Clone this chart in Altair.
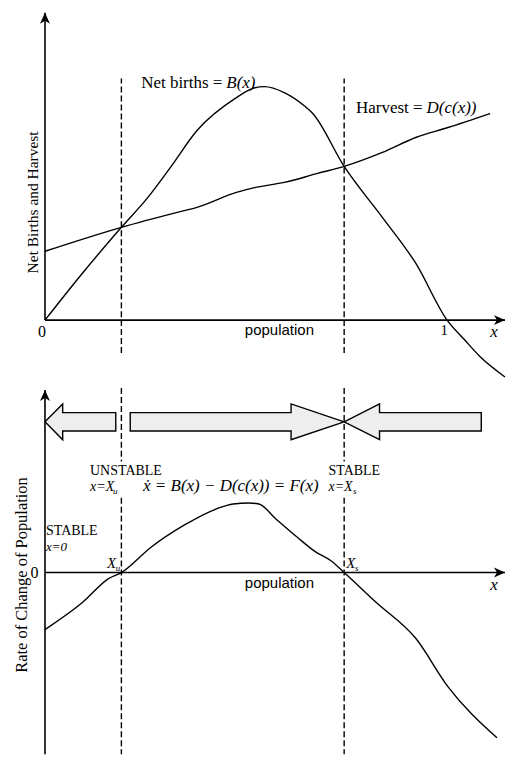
import altair as alt
import pandas as pd

# ---------------- data (population x, values in arbitrary units) ----------------
# Top panel: net births B(x)
b_x = [0, 0.085, 0.19, 0.256, 0.312, 0.378, 0.476, 0.515, 0.546, 0.595, 0.644, 0.666,
       0.744, 0.839, 0.922, 1.0, 1.044, 1.083, 1.144]
b_y = [0, 0.172, 0.372, 0.492, 0.612, 0.760, 0.892, 0.928, 0.936, 0.912, 0.860, 0.828,
       0.616, 0.412, 0.228, 0, -0.08, -0.148, -0.228]
# Top panel: harvest D(c(x))
h_x = [0, 0.19, 0.329, 0.378, 0.476, 0.524, 0.595, 0.678, 0.744, 0.839, 0.922, 1.002, 1.107]
h_y = [0.276, 0.372, 0.432, 0.452, 0.512, 0.532, 0.552, 0.588, 0.616, 0.672, 0.732, 0.772, 0.828]
# Bottom panel: F(x) = B(x) - D(c(x))
f_x = [0, 0.093, 0.159, 0.19, 0.263, 0.346, 0.427, 0.468, 0.507, 0.532, 0.573, 0.629,
       0.671, 0.712, 0.744, 0.824, 0.922, 1.002, 1.124]
f_y = [-0.236, -0.124, -0.024, 0, 0.104, 0.196, 0.264, 0.284, 0.288, 0.284, 0.224, 0.144,
       0.088, 0.048, 0, -0.124, -0.272, -0.472, -0.684]
# equilibria X_u and X_s
eq_x = [0.19, 0.744]
# extents of the axes (data units)
top_axis_x = [0, 0]
top_axis_y = [0, 0]
top_axis_x2 = [0, 1.144]
top_axis_y2 = [1.232, 0]
bot_axis_x = [0, 0]
bot_axis_y = [-0.752, 0]
bot_axis_x2 = [0, 1.144]
bot_axis_y2 = [0.756, 0]
# dashed guide extents
top_dash_lo, top_dash_hi = -0.132, 0.968
bot_dash_segments = [(0.764, 0.46), (0.31, -0.752)]
# direction-of-motion arrows (closed outlines)
arrow_id = ["left"] * 8 + ["mid"] * 8 + ["right"] * 8
arrow_x = [0, 0.044, 0.044, 0.176, 0.176, 0.044, 0.044, 0,
           0.744, 0.612, 0.612, 0.212, 0.212, 0.612, 0.612, 0.744,
           0.744, 0.832, 0.832, 1.085, 1.085, 0.832, 0.832, 0.744]
arrow_y = [0.624, 0.698, 0.662, 0.662, 0.586, 0.586, 0.550, 0.624,
           0.624, 0.698, 0.662, 0.662, 0.586, 0.586, 0.550, 0.624,
           0.624, 0.698, 0.662, 0.662, 0.586, 0.586, 0.550, 0.624]

SERIF = "Liberation Serif"
SANS = "Liberation Sans"

XS = alt.Scale(domain=[-0.092, 1.149], nice=False, zero=False)
YT = alt.Scale(domain=[-0.232, 1.248], nice=False, zero=False)
YB = alt.Scale(domain=[-0.752, 0.797], nice=False, zero=False)

ARROW_PATH = "M0,0 L1,2.2 L0,1.6 L-1,2.2 Z"


def line(xs, ys, ysc, **kw):
    df = pd.DataFrame({"x": xs, "y": ys, "o": range(len(xs))})
    return alt.Chart(df).mark_line(color="black", strokeWidth=1.4, **kw).encode(
        x=alt.X("x:Q", scale=XS, axis=None),
        y=alt.Y("y:Q", scale=ysc, axis=None),
        order="o:Q",
    )


def segs(x, y, x2, y2, ysc, **kw):
    df = pd.DataFrame({"x": x, "y": y, "x2": x2, "y2": y2})
    return alt.Chart(df).mark_rule(color="black", **kw).encode(
        x=alt.X("x:Q", scale=XS, axis=None), x2="x2:Q",
        y=alt.Y("y:Q", scale=ysc, axis=None), y2="y2:Q",
    )


def heads(xs, ys, angles, ysc):
    df = pd.DataFrame({"x": xs, "y": ys, "a": angles})
    return alt.Chart(df).mark_point(shape=ARROW_PATH, filled=True, size=100,
                                    color="black", opacity=1).encode(
        x=alt.X("x:Q", scale=XS, axis=None),
        y=alt.Y("y:Q", scale=ysc, axis=None),
        angle=alt.Angle("a:Q", scale=None),
    )


def label(text, x, y, ysc, size, italic=False, align="left", font=SERIF,
          angle=0, baseline="alphabetic", dx=0):
    df = pd.DataFrame({"x": [x], "y": [y], "t": [text]})
    kw = dict(font=font, fontSize=size, align=align, baseline=baseline,
              color="black", dx=dx)
    if italic:
        kw["fontStyle"] = "italic"
    if angle:
        kw["angle"] = angle
    return alt.Chart(df).mark_text(**kw).encode(
        x=alt.X("x:Q", scale=XS, axis=None),
        y=alt.Y("y:Q", scale=ysc, axis=None),
        text="t:N",
    )


# ---------------- top panel ----------------
top_layers = [
    segs(eq_x, [top_dash_lo] * 2, eq_x, [top_dash_hi] * 2, YT,
         strokeDash=[6, 3], strokeWidth=1.4),
    segs(top_axis_x, top_axis_y, top_axis_x2, top_axis_y2, YT, strokeWidth=1.6),
    heads([0, 1.144], [1.232, 0], [0, 90], YT),
    line(b_x, b_y, YT, interpolate="monotone"),
    line(h_x, h_y, YT, interpolate="monotone"),
    label("Net births =", 0.451, 0.932, YT, 17, align="right", dx=-4),
    label("B(x)", 0.451, 0.932, YT, 17, italic=True),
    label("Harvest =", 0.949, 0.832, YT, 17, align="right", dx=-4),
    label("D(c(x))", 0.949, 0.832, YT, 17, italic=True),
    label("0", -0.0073, -0.068, YT, 16, align="center"),
    label("population", 0.583, -0.06, YT, 15, align="center", font=SANS),
    label("1", 0.993, -0.06, YT, 15, align="center"),
    label("x", 1.117, -0.068, YT, 17, italic=True, align="center"),
    label("Net Births and Harvest", -0.0293, 0.472, YT, 15.5, align="center",
          angle=270, baseline="middle"),
]
top = alt.layer(*top_layers).properties(width=500, height=370)

# ---------------- bottom panel ----------------
arrows_df = pd.DataFrame({"id": arrow_id, "x": arrow_x, "y": arrow_y,
                          "o": range(len(arrow_x))})
arrows = alt.Chart(arrows_df).mark_line(
    fill="#eeeeee", stroke="black", strokeWidth=1.4, strokeJoin="miter",
    interpolate="linear").encode(
    x=alt.X("x:Q", scale=XS, axis=None),
    y=alt.Y("y:Q", scale=YB, axis=None),
    detail="id:N",
    order="o:Q",
)

dash_x, dash_y, dash_y2 = [], [], []
for xe in eq_x:
    for a, b in bot_dash_segments:
        dash_x.append(xe)
        dash_y.append(a)
        dash_y2.append(b)

bot_layers = [
    segs(dash_x, dash_y, dash_x, dash_y2, YB, strokeDash=[6, 3], strokeWidth=1.4),
    segs(bot_axis_x, bot_axis_y, bot_axis_x2, bot_axis_y2, YB, strokeWidth=1.6),
    heads([0, 1.144], [0.756, 0], [0, 90], YB),
    arrows,
    line(f_x, f_y, YB, interpolate="monotone"),
    label("UNSTABLE", 0.112, 0.404, YB, 14),
    label("x=X", 0.112, 0.336, YB, 14, italic=True),
    label("u", 0.169, 0.324, YB, 9, italic=True),
    label("ẋ = B(x) − D(c(x)) = F(x)", 0.244, 0.336, YB, 17, italic=True),
    label("STABLE", 0.705, 0.404, YB, 14),
    label("x=X", 0.705, 0.336, YB, 14, italic=True),
    label("s", 0.766, 0.324, YB, 9, italic=True),
    label("STABLE", 0.0024, 0.156, YB, 14),
    label("x=0", 0.0024, 0.088, YB, 13, italic=True),
    label("X", 0.154, 0.02, YB, 15, italic=True),
    label("u", 0.176, 0.008, YB, 9, italic=True),
    label("X", 0.749, 0.02, YB, 15, italic=True),
    label("s", 0.771, 0.008, YB, 9, italic=True),
    label("0", -0.026, 0.0, YB, 16, align="center", baseline="middle"),
    label("population", 0.583, -0.064, YB, 15, align="center", font=SANS),
    label("x", 1.117, -0.072, YB, 17, italic=True, align="center"),
    label("Rate of Change of Population", -0.058, -0.01, YB, 16.5, align="center",
          angle=270, baseline="middle"),
]
bottom = alt.layer(*bot_layers).properties(width=500, height=375)

chart = alt.vconcat(top, bottom, spacing=0, padding=0, background="white").configure_view(
    stroke=None)

chart.save("out.html", embed_options={"renderer": "svg", "actions": False})
